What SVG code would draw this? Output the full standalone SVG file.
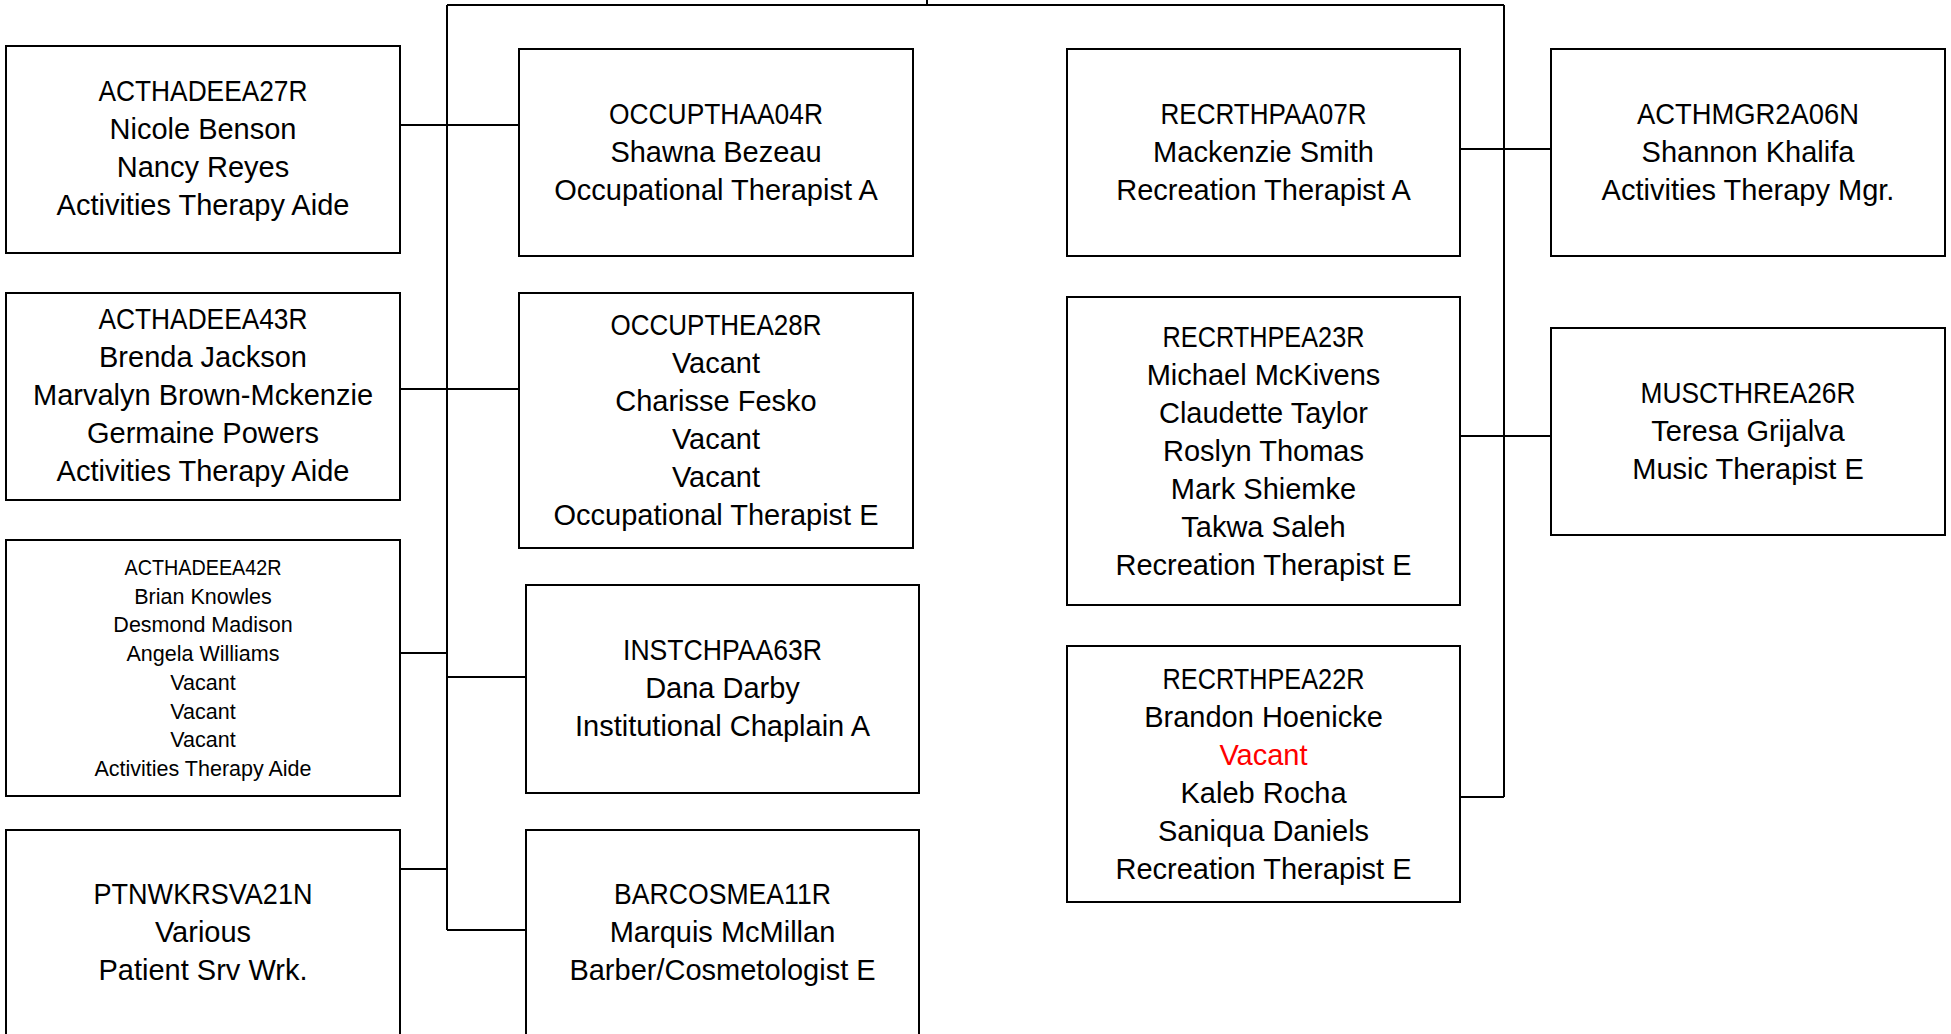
<svg xmlns="http://www.w3.org/2000/svg" width="1951" height="1034" viewBox="0 0 1951 1034">
<style>
.box{fill:#fff;stroke:#000;stroke-width:2}
.t{font-family:"Liberation Sans",Arial,sans-serif;font-size:29px;fill:#000;text-anchor:middle}
.s{font-family:"Liberation Sans",Arial,sans-serif;font-size:21.5px;fill:#000;text-anchor:middle}
.red{fill:#ff0000}
.c{fill:none;stroke:#000;stroke-width:2}
</style>
<rect width="1951" height="1034" fill="#fff"/>
<g id="connectors">
<path class="c" d="M927 0V5M447 5H1504M447 5V930M1504 5V797"/>
<path class="c" d="M400 125H519M400 389H519M400 653H447M447 677H526M400 869H447M447 930H526"/>
<path class="c" d="M1460 149H1551M1460 436H1551M1460 797H1504"/>
</g>
<g id="n-acthadeea27r">
<rect class="box" x="6" y="46" width="394" height="207"/>
<text class="t"><tspan x="203" y="101" textLength="209" lengthAdjust="spacingAndGlyphs">ACTHADEEA27R</tspan><tspan x="203" y="139">Nicole Benson</tspan><tspan x="203" y="177">Nancy Reyes</tspan><tspan x="203" y="215">Activities Therapy Aide</tspan></text>
</g>
<g id="n-acthadeea43r">
<rect class="box" x="6" y="293" width="394" height="207"/>
<text class="t"><tspan x="203" y="329" textLength="209" lengthAdjust="spacingAndGlyphs">ACTHADEEA43R</tspan><tspan x="203" y="367">Brenda Jackson</tspan><tspan x="203" y="405">Marvalyn Brown-Mckenzie</tspan><tspan x="203" y="443">Germaine Powers</tspan><tspan x="203" y="481">Activities Therapy Aide</tspan></text>
</g>
<g id="n-acthadeea42r">
<rect class="box" x="6" y="540" width="394" height="256"/>
<text class="s"><tspan x="203" y="575" textLength="157" lengthAdjust="spacingAndGlyphs">ACTHADEEA42R</tspan><tspan x="203" y="603.7">Brian Knowles</tspan><tspan x="203" y="632.4">Desmond Madison</tspan><tspan x="203" y="661.1">Angela Williams</tspan><tspan x="203" y="689.8">Vacant</tspan><tspan x="203" y="718.5">Vacant</tspan><tspan x="203" y="747.2">Vacant</tspan><tspan x="203" y="775.9">Activities Therapy Aide</tspan></text>
</g>
<g id="n-ptnwkrsva21n">
<rect class="box" x="6" y="830" width="394" height="206"/>
<text class="t"><tspan x="203" y="904" textLength="219" lengthAdjust="spacingAndGlyphs">PTNWKRSVA21N</tspan><tspan x="203" y="942">Various</tspan><tspan x="203" y="980">Patient Srv Wrk.</tspan></text>
</g>
<g id="n-occupthaa04r">
<rect class="box" x="519" y="49" width="394" height="207"/>
<text class="t"><tspan x="716" y="124" textLength="214" lengthAdjust="spacingAndGlyphs">OCCUPTHAA04R</tspan><tspan x="716" y="162">Shawna Bezeau</tspan><tspan x="716" y="200">Occupational Therapist A</tspan></text>
</g>
<g id="n-occupthea28r">
<rect class="box" x="519" y="293" width="394" height="255"/>
<text class="t"><tspan x="716" y="335" textLength="211" lengthAdjust="spacingAndGlyphs">OCCUPTHEA28R</tspan><tspan x="716" y="373">Vacant</tspan><tspan x="716" y="411">Charisse Fesko</tspan><tspan x="716" y="449">Vacant</tspan><tspan x="716" y="487">Vacant</tspan><tspan x="716" y="525">Occupational Therapist E</tspan></text>
</g>
<g id="n-instchpaa63r">
<rect class="box" x="526" y="585" width="393" height="208"/>
<text class="t"><tspan x="722.5" y="660" textLength="199" lengthAdjust="spacingAndGlyphs">INSTCHPAA63R</tspan><tspan x="722.5" y="698">Dana Darby</tspan><tspan x="722.5" y="736">Institutional Chaplain A</tspan></text>
</g>
<g id="n-barcosmea11r">
<rect class="box" x="526" y="830" width="393" height="206"/>
<text class="t"><tspan x="722.5" y="904" textLength="217" lengthAdjust="spacingAndGlyphs">BARCOSMEA11R</tspan><tspan x="722.5" y="942">Marquis McMillan</tspan><tspan x="722.5" y="980">Barber/Cosmetologist E</tspan></text>
</g>
<g id="n-recrthpaa07r">
<rect class="box" x="1067" y="49" width="393" height="207"/>
<text class="t"><tspan x="1263.5" y="124" textLength="206" lengthAdjust="spacingAndGlyphs">RECRTHPAA07R</tspan><tspan x="1263.5" y="162">Mackenzie Smith</tspan><tspan x="1263.5" y="200">Recreation Therapist A</tspan></text>
</g>
<g id="n-recrthpea23r">
<rect class="box" x="1067" y="297" width="393" height="308"/>
<text class="t"><tspan x="1263.5" y="346.5" textLength="202" lengthAdjust="spacingAndGlyphs">RECRTHPEA23R</tspan><tspan x="1263.5" y="384.5">Michael McKivens</tspan><tspan x="1263.5" y="422.5">Claudette Taylor</tspan><tspan x="1263.5" y="460.5">Roslyn Thomas</tspan><tspan x="1263.5" y="498.5">Mark Shiemke</tspan><tspan x="1263.5" y="536.5">Takwa Saleh</tspan><tspan x="1263.5" y="574.5">Recreation Therapist E</tspan></text>
</g>
<g id="n-recrthpea22r">
<rect class="box" x="1067" y="646" width="393" height="256"/>
<text class="t"><tspan x="1263.5" y="688.5" textLength="202" lengthAdjust="spacingAndGlyphs">RECRTHPEA22R</tspan><tspan x="1263.5" y="726.5">Brandon Hoenicke</tspan><tspan x="1263.5" y="764.5" class="red">Vacant</tspan><tspan x="1263.5" y="802.5">Kaleb Rocha</tspan><tspan x="1263.5" y="840.5">Saniqua Daniels</tspan><tspan x="1263.5" y="878.5">Recreation Therapist E</tspan></text>
</g>
<g id="n-acthmgr2a06n">
<rect class="box" x="1551" y="49" width="394" height="207"/>
<text class="t"><tspan x="1748" y="124" textLength="222" lengthAdjust="spacingAndGlyphs">ACTHMGR2A06N</tspan><tspan x="1748" y="162">Shannon Khalifa</tspan><tspan x="1748" y="200">Activities Therapy Mgr.</tspan></text>
</g>
<g id="n-muscthrea26r">
<rect class="box" x="1551" y="328" width="394" height="207"/>
<text class="t"><tspan x="1748" y="403" textLength="215" lengthAdjust="spacingAndGlyphs">MUSCTHREA26R</tspan><tspan x="1748" y="441">Teresa Grijalva</tspan><tspan x="1748" y="479">Music Therapist E</tspan></text>
</g>
</svg>
